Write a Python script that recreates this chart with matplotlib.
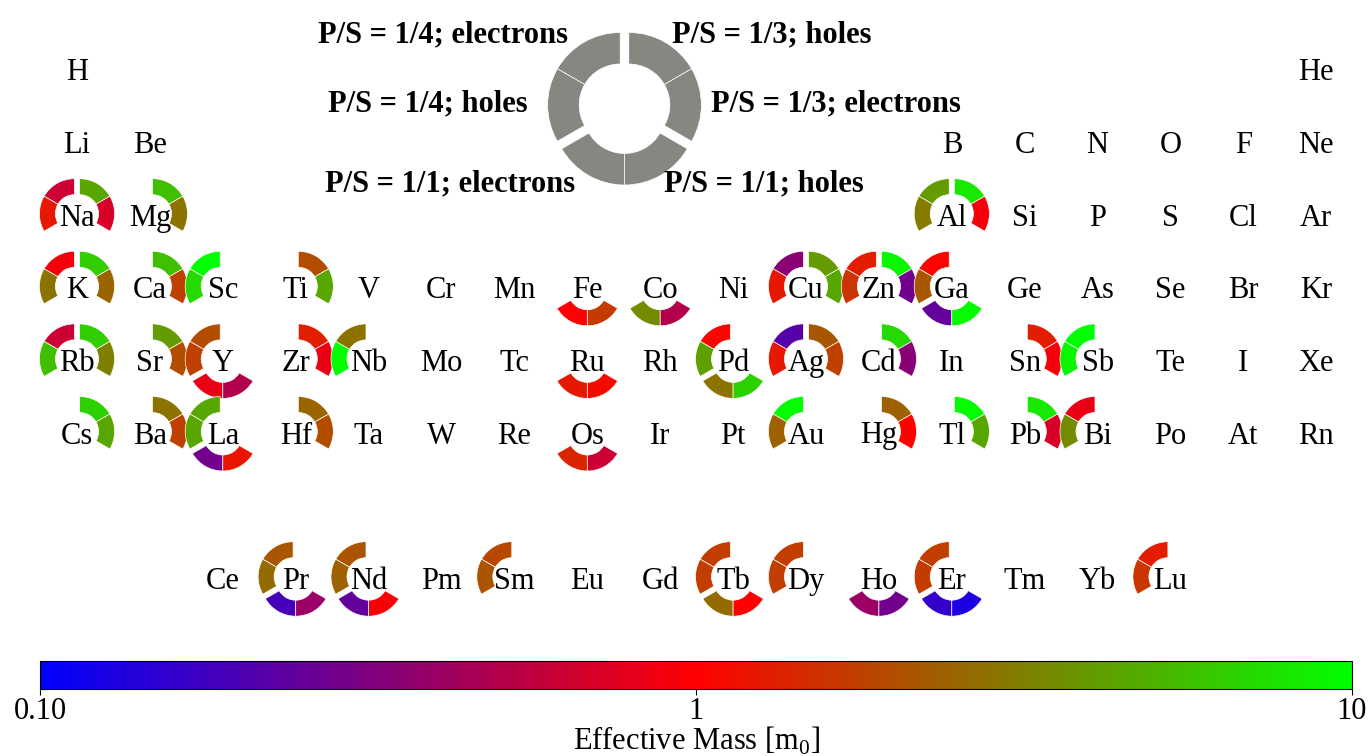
import matplotlib
matplotlib.use("Agg")
import matplotlib.pyplot as plt
import numpy as np
from matplotlib.patches import Wedge
from matplotlib.colors import LinearSegmentedColormap, LogNorm
from matplotlib.cm import ScalarMappable
from matplotlib.ticker import NullLocator

plt.rcParams['font.family'] = ['Liberation Serif', 'DejaVu Serif']
plt.rcParams['mathtext.fontset'] = 'custom'
plt.rcParams['mathtext.rm'] = 'Liberation Serif'

# periodic table, one list per period (None = empty cell)
period1 = ["H"] + [None] * 16 + ["He"]
period2 = ["Li", "Be"] + [None] * 10 + ["B", "C", "N", "O", "F", "Ne"]
period3 = ["Na", "Mg"] + [None] * 10 + ["Al", "Si", "P", "S", "Cl", "Ar"]
period4 = "K Ca Sc Ti V Cr Mn Fe Co Ni Cu Zn Ga Ge As Se Br Kr".split()
period5 = "Rb Sr Y Zr Nb Mo Tc Ru Rh Pd Ag Cd In Sn Sb Te I Xe".split()
period6 = "Cs Ba La Hf Ta W Re Os Ir Pt Au Hg Tl Pb Bi Po At Rn".split()
lanthanides = "Ce Pr Nd Pm Sm Eu Gd Tb Dy Ho Er Tm Yb Lu".split()

# effective masses [m0] per P/S ratio and carrier type
m_14_e = {"Na": 0.63, "Al": 4.0, "K": 0.9, "Sc": 10, "Cu": 0.35, "Zn": 1.3, "Ga": 1.05,
          "Rb": 0.63, "Y": 2.0, "Nb": 2.8, "Pd": 1.07, "Ag": 0.22, "Sb": 10, "La": 4.5,
          "Au": 9.5, "Bi": 0.83, "Pr": 2.2, "Nd": 2.1, "Sm": 1.9, "Tb": 1.74, "Dy": 1.74,
          "Er": 1.74, "Lu": 1.3}
m_14_h = {"Na": 1.26, "Al": 3.0, "K": 2.8, "Sc": 7.0, "Cu": 1.26, "Zn": 1.6, "Ga": 2.2,
          "Rb": 5.6, "Y": 1.8, "Nb": 10, "Pd": 4.2, "Ag": 1.26, "Sb": 9.0, "La": 4.5,
          "Au": 2.4, "Bi": 3.5, "Pr": 2.6, "Nd": 2.4, "Sm": 2.1, "Tb": 1.74, "Dy": 1.74,
          "Er": 1.7, "Lu": 1.6}
m_13_h = {"Na": 4.5, "Mg": 5.6, "Al": 8.0, "K": 6.3, "Ca": 5.6, "Ti": 2.0, "Cu": 4.0,
          "Zn": 9.0, "Rb": 6.3, "Sr": 4.0, "Zr": 1.3, "Ag": 2.2, "Cd": 7.0, "Sn": 1.3,
          "Cs": 6.6, "Ba": 2.8, "Hf": 2.5, "Hg": 2.4, "Tl": 9.5, "Pb": 8.0}
m_13_e = {"Na": 0.7, "Mg": 2.8, "Al": 0.93, "K": 2.5, "Ca": 1.8, "Ti": 4.5, "Cu": 4.5,
          "Zn": 0.28, "Rb": 3.2, "Sr": 2.0, "Zr": 0.83, "Ag": 1.8, "Cd": 0.35, "Sn": 0.9,
          "Cs": 4.5, "Ba": 1.8, "Hf": 2.0, "Hg": 1.0, "Tl": 4.5, "Pb": 0.7}
m_11_e = {"Fe": 1.0, "Co": 3.5, "Ga": 0.25, "Y": 0.83, "Ru": 1.26, "Pd": 2.8, "La": 0.28,
          "Os": 1.4, "Pr": 0.19, "Nd": 0.25, "Tb": 2.6, "Ho": 0.4, "Er": 0.16}
m_11_h = {"Fe": 1.7, "Co": 0.5, "Ga": 9.5, "Y": 0.5, "Ru": 1.1, "Pd": 6.6, "La": 1.2,
          "Os": 0.63, "Pr": 0.4, "Nd": 0.95, "Tb": 1.0, "Ho": 0.28, "Er": 0.13}

channel_names = ["P/S = 1/4; electrons", "P/S = 1/4; holes", "P/S = 1/3; holes",
                 "P/S = 1/3; electrons", "P/S = 1/1; electrons", "P/S = 1/1; holes"]
channel_data = [m_14_e, m_14_h, m_13_h, m_13_e, m_11_e, m_11_h]
# (theta1, theta2, direction of the group the wedge belongs to)
channel_angles = [(90, 150, 150), (150, 210, 150), (30, 90, 30),
                  (-30, 30, 30), (210, 270, 270), (270, 330, 270)]

cmap = LinearSegmentedColormap.from_list("brg", ["blue", "red", "lime"])
norm = LogNorm(vmin=0.1, vmax=10)

W, H = 1370, 756
fig = plt.figure(figsize=(W / 100, H / 100), dpi=100)
ax = fig.add_axes([0, 0, 1, 1])
ax.set_xlim(0, W)
ax.set_ylim(0, H)
ax.axis("off")

X0, DX = 77, 72.9
Y0, DY = H - 70, 72.6
R_OUT, R_IN, SHIFT = 35, 19, 3
TXT_DY = 3  # text sits a bit lower than the ring centre


def donut(cx, cy, colors, r_out, r_in, shift):
    for (t1, t2, grp), c in zip(channel_angles, colors):
        if c is None:
            continue
        a = np.deg2rad(grp)
        w = Wedge((cx + shift * np.cos(a), cy + shift * np.sin(a)), r_out, t1, t2,
                  width=r_out - r_in, facecolor=c, edgecolor="white", lw=0.5, zorder=2)
        ax.add_patch(w)


def cell(sym, row, col):
    x = X0 + col * DX
    y = Y0 - row * DY
    colors = [cmap(norm(d[sym])) if sym in d else None for d in channel_data]
    donut(x, y, colors, R_OUT, R_IN, SHIFT)
    ax.text(x, y - TXT_DY, sym, ha="center", va="center", fontsize=22, zorder=10)


for row, period in enumerate([period1, period2, period3, period4, period5, period6]):
    for col, sym in enumerate(period):
        if sym is not None:
            cell(sym, row, col)
for i, sym in enumerate(lanthanides):
    cell(sym, 7, i + 2)

# legend donut
LX, LY = 624.5, H - 107.5
donut(LX, LY, ["#878681"] * 6, 72.5, 41, 5)
legend_pos = [(568, 32, "right"), (528, 101, "right"), (672, 32, "left"),
              (711, 101, "left"), (575, 181, "right"), (664, 181, "left")]
for name, (tx, ty, ha) in zip(channel_names, legend_pos):
    ax.text(tx, H - ty - TXT_DY, name, ha=ha, va="center", fontsize=22, fontweight="bold")

# colorbar
cax = fig.add_axes([40 / W, (H - 689) / H, 1312 / W, 28 / H])
cb = fig.colorbar(ScalarMappable(norm=norm, cmap=cmap), cax=cax, orientation="horizontal")
cb.set_ticks([0.1, 1, 10])
cb.set_ticklabels(["0.10", "1", "10"])
cb.ax.xaxis.set_minor_locator(NullLocator())
cb.ax.tick_params(labelsize=22, length=4, pad=2)
cb.set_label(r"Effective Mass [m$_\mathrm{0}$]", fontsize=22, labelpad=-1)
cb.outline.set_linewidth(0.8)

fig.savefig("out.png", dpi=100)
